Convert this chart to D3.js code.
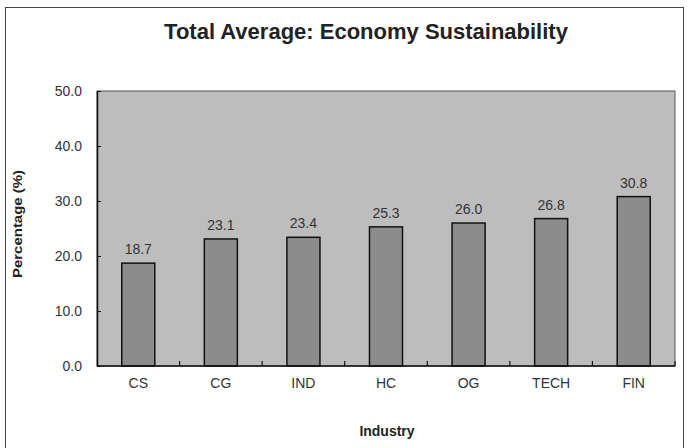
<!DOCTYPE html>
<html>
<head>
<meta charset="utf-8">
<script src="https://cdn.jsdelivr.net/npm/d3@7"></script>
<style>
    body { margin: 0; background: #fff; }
    svg text { font-family: "Liberation Sans", Arial, sans-serif; fill: #222; }
</style>
</head>
<body>
<svg id="chart" width="688" height="448"></svg>
<script>
    // 数据
    var categories = ["CS", "CG", "IND", "HC", "OG", "TECH", "FIN"];
    var values = [18.7, 23.1, 23.4, 25.3, 26.0, 26.8, 30.8];
    var yTicks = [0, 10, 20, 30, 40, 50];

    var svg = d3.select("#chart");
    var plot = {left: 97, top: 91, right: 675, bottom: 366};

    // 外框
    svg.append("rect").attr("x", 5.5).attr("y", 7.5).attr("width", 678).attr("height", 445)
        .style("fill", "#fff").style("stroke", "#444").style("stroke-width", 1);

    var x = d3.scaleBand().domain(categories).range([plot.left, plot.right]).paddingInner(0.6).paddingOuter(0.3);
    var y = d3.scaleLinear().domain([0, 50]).range([plot.bottom, plot.top]);

    // 绘图区
    svg.append("rect").attr("x", plot.left).attr("y", plot.top)
        .attr("width", plot.right - plot.left).attr("height", plot.bottom - plot.top)
        .style("fill", "#bdbdbd").style("stroke", "#555").style("stroke-width", 1);

    // 柱子
    svg.selectAll(".bar").data(values).enter().append("rect").attr("class", "bar")
        .attr("x", function (d, i) { return x(categories[i]); })
        .attr("y", function (d) { return y(d); })
        .attr("width", x.bandwidth())
        .attr("height", function (d) { return y(0) - y(d); })
        .style("fill", "#8c8c8c").style("stroke", "#111").style("stroke-width", 1.5);

    // 数值标签
    svg.selectAll(".val").data(values).enter().append("text").attr("class", "val")
        .attr("x", function (d, i) { return x(categories[i]) + x.bandwidth() / 2; })
        .attr("y", function (d) { return y(d) - 9; })
        .attr("text-anchor", "middle").style("font-size", "14px").style("fill", "#333")
        .text(function (d) { return d.toFixed(1); });

    // Y轴
    var yAxis = d3.axisLeft(y).tickValues(yTicks).tickSizeInner(-4).tickSizeOuter(0)
        .tickPadding(15).tickFormat(d3.format(".1f"));
    var gy = svg.append("g").attr("transform", "translate(" + plot.left + ",0)").call(yAxis);
    gy.select(".domain").style("stroke", "#111").style("stroke-width", 1.5);
    gy.selectAll(".tick line").style("stroke", "#111");
    gy.selectAll("text").style("font-size", "14px").style("fill", "#333").style("font-family", "Liberation Sans, Arial");

    // X轴
    var bounds = d3.range(1, categories.length + 1).map(function (i) { return plot.left + i * (plot.right - plot.left) / categories.length; });
    svg.append("line").attr("x1", plot.left).attr("x2", plot.right).attr("y1", plot.bottom).attr("y2", plot.bottom)
        .style("stroke", "#111").style("stroke-width", 1.5);
    svg.selectAll(".xtick").data(bounds).enter().append("line").attr("class", "xtick")
        .attr("x1", function (d) { return d; }).attr("x2", function (d) { return d; })
        .attr("y1", plot.bottom).attr("y2", plot.bottom - 5)
        .style("stroke", "#111").style("stroke-width", 1.2);
    svg.selectAll(".xlab").data(categories).enter().append("text").attr("class", "xlab")
        .attr("x", function (d) { return x(d) + x.bandwidth() / 2; })
        .attr("y", 388).attr("text-anchor", "middle").style("font-size", "14px").style("fill", "#333")
        .text(function (d) { return d; });

    // 标题
    svg.append("text").attr("x", 366).attr("y", 39).attr("text-anchor", "middle")
        .style("font-size", "22px").style("font-weight", "bold").text("Total Average: Economy Sustainability");
    svg.append("text").attr("transform", "translate(22,224) rotate(-90)").attr("text-anchor", "middle")
        .attr("textLength", 108).attr("lengthAdjust", "spacingAndGlyphs")
        .style("font-size", "12px").style("font-weight", "bold").text("Percentage (%)");
    svg.append("text").attr("x", 387).attr("y", 436).attr("text-anchor", "middle")
        .style("font-size", "14px").style("font-weight", "bold").text("Industry");
</script>
</body>
</html>
